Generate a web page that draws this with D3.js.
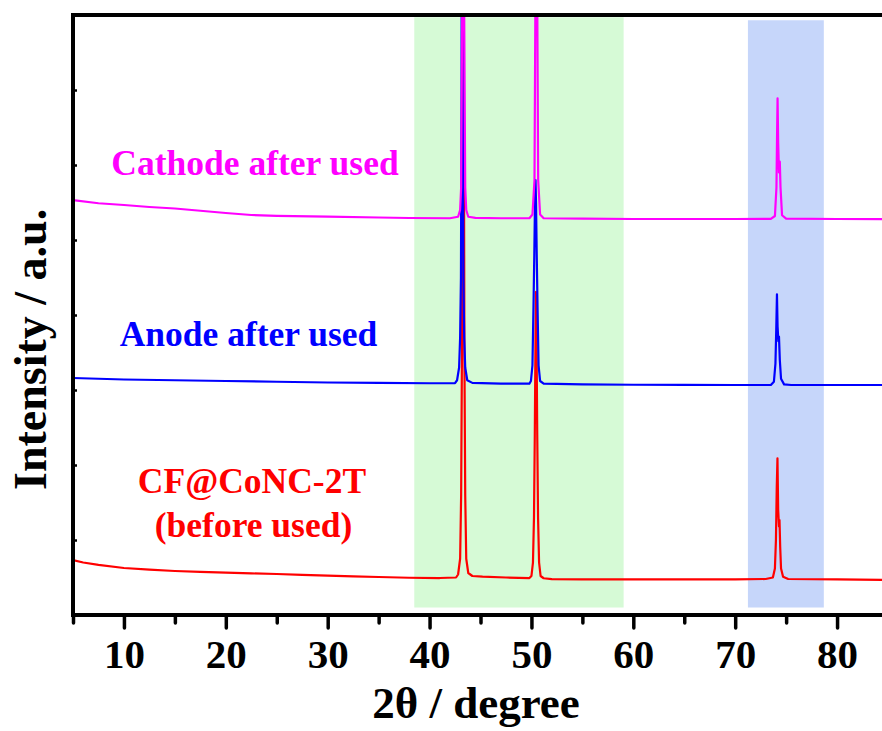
<!DOCTYPE html>
<html>
<head>
<meta charset="utf-8">
<script src="https://cdn.jsdelivr.net/npm/d3@7"></script>
<style>
  html, body { margin: 0; padding: 0; background: #fff; }
  svg { display: block; }
  text { font-family: "Liberation Serif", "Times New Roman", serif; font-weight: bold; }
</style>
</head>
<body>
<svg id="chart" width="882" height="731"></svg>
<script>
// XRD patterns, [2θ (degree), intensity (a.u., stacked offsets)]
const beforeUsed = [
  [5, 733], [6, 700], [7.5, 668], [10, 627], [12.5, 605], [15, 587], [17.5, 575], [20, 564],
  [22.5, 555], [25, 547], [27.5, 535], [30, 524], [32.5, 515], [35, 507], [38, 497], [41, 493],
  [42.6, 500], [42.8, 540], [43.0, 750], [43.1, 1600], [43.18, 3500], [43.25, 8000], [43.3, 14000],
  [43.35, 8000], [43.42, 3500], [43.5, 1600], [43.6, 750], [43.8, 560], [44.2, 520], [45.2, 511],
  [47.5, 500], [49.8, 492], [50.0, 520], [50.15, 700], [50.25, 1300], [50.33, 2400], [50.4, 3700],
  [50.45, 4307], [50.5, 3700], [50.57, 2400], [50.65, 1300], [50.75, 700], [50.9, 520], [51.2, 490],
  [52, 478], [55, 476], [60, 476], [65, 475], [70, 476], [73, 480], [73.7, 500], [73.9, 620],
  [74.0, 1000], [74.08, 1700], [74.15, 2089], [74.22, 1400], [74.3, 1180], [74.35, 1267], [74.42, 900],
  [74.5, 620], [74.7, 510], [75.2, 480], [80, 476], [85, 467]
];
const anodeUsed = [
  [5, 3160], [7.5, 3150], [10, 3140], [15, 3130], [20, 3120], [25, 3110], [30, 3100], [35, 3095],
  [40, 3090], [42.5, 3092], [42.7, 3130], [42.9, 3300], [43.0, 3700], [43.08, 4500], [43.14, 7000],
  [43.2, 14000], [43.26, 7000], [43.32, 4500], [43.4, 3700], [43.5, 3300], [43.7, 3130], [44.2, 3095],
  [47, 3085], [49.8, 3085], [49.95, 3120], [50.1, 3330], [50.2, 4100], [50.28, 4800], [50.35, 5500],
  [50.4, 5800], [50.45, 5500], [50.52, 4800], [50.6, 4100], [50.7, 3330], [50.85, 3120], [51.2, 3085],
  [55, 3075], [60, 3070], [65, 3068], [70, 3067], [73.5, 3067], [73.8, 3110], [73.95, 3350],
  [74.03, 3800], [74.1, 4276], [74.16, 3850], [74.24, 3650], [74.3, 3711], [74.38, 3400], [74.5, 3150],
  [74.8, 3075], [75.5, 3067], [80, 3067], [85, 3067]
];
const cathodeUsed = [
  [5, 5533], [7.5, 5490], [10, 5467], [12.5, 5440], [15, 5420], [17.5, 5390], [20, 5360], [22.5, 5333],
  [25, 5322], [30, 5311], [35, 5300], [38, 5293], [42, 5290], [42.8, 5310], [43.0, 5400], [43.1, 5700],
  [43.2, 8000], [43.3, 14000], [43.4, 8000], [43.5, 5700], [43.6, 5400], [43.8, 5310], [44.5, 5295],
  [47, 5290], [49.8, 5290], [50.1, 5340], [50.3, 5800], [50.4, 8500], [50.48, 13000], [50.56, 8500],
  [50.66, 5800], [50.85, 5340], [51.2, 5290], [55, 5285], [60, 5280], [65, 5280], [70, 5280],
  [73.5, 5282], [73.9, 5320], [74.05, 5700], [74.12, 6500], [74.16, 6889], [74.22, 6300], [74.3, 5900],
  [74.38, 6044], [74.45, 5700], [74.6, 5330], [75, 5285], [80, 5280], [85, 5278]
];

const seriesNames = ["CF@CoNC-2T", "Anode after used", "Cathode after used"];
const seriesColors = ["#ff0000", "#0000ff", "#ff00ff"];

// highlighted 2θ ranges
const bandRanges = [[38.5, 59.05], [71.25, 78.7]];
const bandTops = [7970, 7930];
const bandBottom = 100;
const bandColors = ["#d6fad6", "#c6d6fa"];

const xMajorTicks = [10, 20, 30, 40, 50, 60, 70, 80];
const xMinorTicks = [5, 15, 25, 35, 45, 55, 65, 75, 85];
const yTicks = [0, 1000, 2000, 3000, 4000, 5000, 6000, 7000, 8000];

const xDomain = [5, 85];
const yDomain = [0, 8000];

const svg = d3.select("#chart");
const plotBox = { left: 73, right: 888, top: 15, bottom: 615 };

const x = d3.scaleLinear().domain(xDomain).range([plotBox.left, plotBox.right]);
const y = d3.scaleLinear().domain(yDomain).range([plotBox.bottom, plotBox.top]);

svg.append("defs").append("clipPath").attr("id", "plotClip")
  .append("rect").attr("x", plotBox.left).attr("y", plotBox.top)
  .attr("width", plotBox.right - plotBox.left).attr("height", plotBox.bottom - plotBox.top);

// shaded ranges
svg.append("g").selectAll("rect").data(bandRanges).join("rect")
  .attr("x", d => x(d[0]))
  .attr("width", d => x(d[1]) - x(d[0]))
  .attr("y", (d, i) => y(bandTops[i]))
  .attr("height", (d, i) => y(bandBottom) - y(bandTops[i]))
  .attr("fill", (d, i) => bandColors[i]);

// patterns
const line = d3.line().x(d => x(d[0])).y(d => y(d[1]));
const plotG = svg.append("g").attr("clip-path", "url(#plotClip)");
[beforeUsed, anodeUsed, cathodeUsed].forEach((s, i) => {
  plotG.append("path").datum(s)
    .attr("d", line)
    .attr("fill", "none")
    .attr("stroke", seriesColors[i])
    .attr("stroke-width", 2.2)
    .attr("stroke-linejoin", "round");
});

// axes
const axisBottom = d3.axisBottom(x).tickValues(xMajorTicks).tickSize(13).tickPadding(11).tickFormat(d3.format("d"));
const gx = svg.append("g").attr("transform", `translate(0,${plotBox.bottom})`).call(axisBottom);
gx.select(".domain").remove();
gx.selectAll(".tick line").attr("stroke", "#000").attr("stroke-width", 3.5).attr("stroke-linecap", "round");
gx.selectAll(".tick text").attr("font-size", 41).attr("fill", "#000")
  .style("font-family", "'Liberation Serif', serif").style("font-weight", "bold");

const axisMinor = d3.axisBottom(x).tickValues(xMinorTicks).tickSize(8).tickFormat("");
const gxm = svg.append("g").attr("transform", `translate(0,${plotBox.bottom})`).call(axisMinor);
gxm.select(".domain").remove();
gxm.selectAll(".tick line").attr("stroke", "#000").attr("stroke-width", 3.5).attr("stroke-linecap", "round");

const axisTop = d3.axisTop(x).tickValues(xMajorTicks.concat(xMinorTicks)).tickSize(2).tickFormat("");
const gt = svg.append("g").attr("transform", `translate(0,${plotBox.top})`).call(axisTop);
gt.select(".domain").remove();
gt.selectAll(".tick line").attr("stroke", "#000").attr("stroke-width", 2);

const axisLeft = d3.axisRight(y).tickValues(yTicks).tickSize(4).tickFormat("");
const gy = svg.append("g").attr("transform", `translate(${plotBox.left},0)`).call(axisLeft);
gy.select(".domain").remove();
gy.selectAll(".tick line").attr("stroke", "#000").attr("stroke-width", 2.5);

// frame
svg.append("rect")
  .attr("x", plotBox.left).attr("y", plotBox.top)
  .attr("width", plotBox.right - plotBox.left).attr("height", plotBox.bottom - plotBox.top)
  .attr("fill", "none").attr("stroke", "#000").attr("stroke-width", 4);

// axis titles
svg.append("text")
  .attr("x", 476).attr("y", 718)
  .attr("text-anchor", "middle").attr("font-size", 45).attr("fill", "#000")
  .text("2θ / degree");

svg.append("text")
  .attr("transform", "translate(46,490) rotate(-90)")
  .attr("text-anchor", "start").attr("font-size", 46).attr("fill", "#000")
  .text("Intensity / a.u.");

// series labels
const labelLines = [
  { text: "Cathode after used", x: 255, y: 175, color: seriesColors[2] },
  { text: "Anode after used", x: 248.5, y: 346, color: seriesColors[1] },
  { text: "CF@CoNC-2T", x: 252, y: 493, color: seriesColors[0] },
  { text: "(before used)", x: 253.5, y: 537, color: seriesColors[0] }
];
svg.append("g").selectAll("text").data(labelLines).join("text")
  .attr("x", d => d.x).attr("y", d => d.y)
  .attr("text-anchor", "middle").attr("font-size", 35.5)
  .attr("fill", d => d.color)
  .text(d => d.text);
</script>
</body>
</html>
